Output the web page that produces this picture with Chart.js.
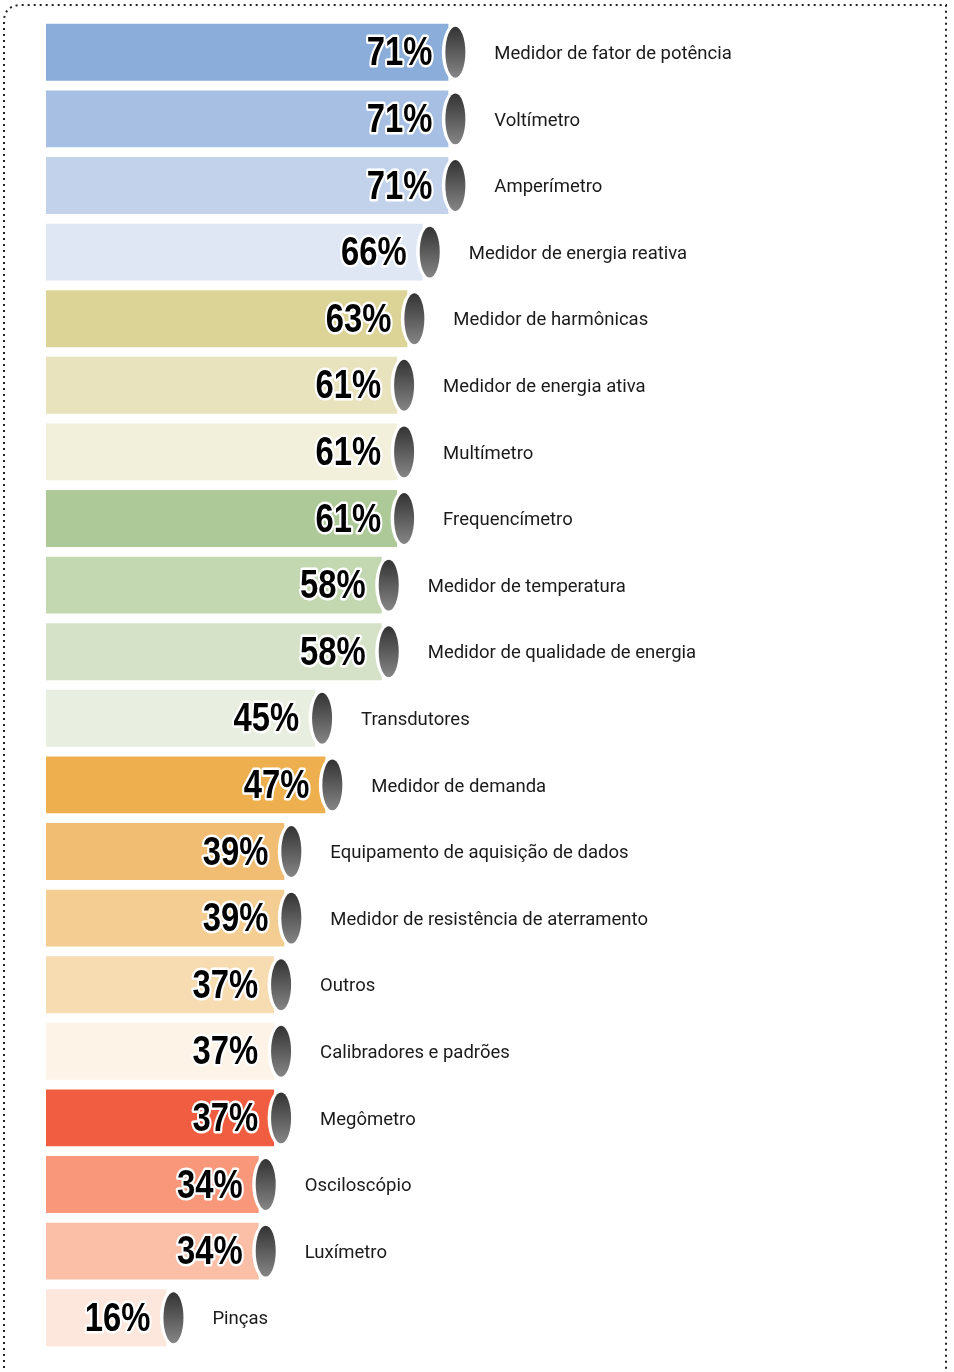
<!DOCTYPE html>
<html>
<head>
<meta charset="utf-8">
<script src="https://cdn.jsdelivr.net/npm/chart.js@4.4.0/dist/chart.umd.min.js"></script>
<style>
    html, body { margin: 0; padding: 0; background: #fff; }
    .chart-container { position: relative; width: 954px; height: 1372px; }
</style>
</head>
<body>
<div class="chart-container">
    <canvas id="bar-chart"></canvas>
</div>
<script>
const categories = [
    "Medidor de fator de potência",
    "Voltímetro",
    "Amperímetro",
    "Medidor de energia reativa",
    "Medidor de harmônicas",
    "Medidor de energia ativa",
    "Multímetro",
    "Frequencímetro",
    "Medidor de temperatura",
    "Medidor de qualidade de energia",
    "Transdutores",
    "Medidor de demanda",
    "Equipamento de aquisição de dados",
    "Medidor de resistência de aterramento",
    "Outros",
    "Calibradores e padrões",
    "Megômetro",
    "Osciloscópio",
    "Luxímetro",
    "Pinças",
];
const percentValues = [71, 71, 71, 66, 63, 61, 61, 61, 58, 58, 45, 47, 39, 39, 37, 37, 37, 34, 34, 16];
const barColors = [
    "#8aadd9", "#a6bfe3", "#c2d2eb", "#dfe6f4",
    "#dcd497", "#e8e2bd", "#f2efdb",
    "#aec998", "#c3d7b0", "#d6e2c8", "#e8eee0",
    "#eeb04e", "#f0bd73", "#f4cd93", "#f7dcb2", "#fdf3e7",
    "#f15d41", "#f8977a", "#fbbea7", "#fde6dc",
];

// the bars start a little left of zero in the original
const axisMin = -7.5;
const axisMax = 100;

// dotted frame round the whole picture
const framePlugin = {
    id: "frame",
    beforeDraw(chart) {
        const ctx = chart.ctx;
        ctx.save();
        ctx.strokeStyle = "#222";
        ctx.lineWidth = 2;
        ctx.setLineDash([2, 4]);
        ctx.beginPath();
        ctx.moveTo(4, 1380);
        ctx.lineTo(4, 20);
        ctx.quadraticCurveTo(5, 6, 20, 5);
        ctx.lineTo(946, 5);
        ctx.lineTo(946, 1380);
        ctx.stroke();
        ctx.restore();
    },
};

// cap at the end of each bar, the percent text and the category name
const barEndPlugin = {
    id: "barEnd",
    afterDatasetsDraw(chart) {
        const ctx = chart.ctx;
        const meta = chart.getDatasetMeta(0);
        meta.data.forEach((bar, i) => {
            const cx = bar.x + 7;
            const cy = bar.y;
            const h = bar.height;

            ctx.save();
            ctx.fillStyle = "#fff";
            ctx.beginPath();
            ctx.ellipse(cx, cy, 13.5, h / 2, 0, 0, Math.PI * 2);
            ctx.fill();

            const grad = ctx.createLinearGradient(0, cy - h / 2, 0, cy + h / 2);
            grad.addColorStop(0, "#2e2e2e");
            grad.addColorStop(1, "#8a8a8a");
            ctx.fillStyle = grad;
            ctx.beginPath();
            ctx.ellipse(cx, cy, 10, h / 2 - 3, 0, 0, Math.PI * 2);
            ctx.fill();
            ctx.restore();

            // percent, narrow bold face squeezed from Liberation Sans
            ctx.save();
            const tx = bar.x - 16;
            ctx.translate(tx, cy + 2);
            ctx.scale(0.82, 1);
            ctx.font = "bold 40px 'Liberation Sans', Arial, sans-serif";
            ctx.textAlign = "right";
            ctx.textBaseline = "middle";
            ctx.lineJoin = "round";
            ctx.lineWidth = 5;
            ctx.strokeStyle = "#fff";
            const txt = percentValues[i] + "%";
            ctx.strokeText(txt, 0, 0);
            ctx.fillStyle = "#000";
            ctx.fillText(txt, 0, 0);
            ctx.restore();

            // category name
            ctx.save();
            ctx.font = "18.5px Roboto, 'Noto Sans', sans-serif";
            ctx.textAlign = "left";
            ctx.textBaseline = "middle";
            ctx.fillStyle = "#1a1a1a";
            ctx.fillText(categories[i], cx + 39, cy + 2);
            ctx.restore();
        });
    },
};

const ctx = document.getElementById("bar-chart").getContext("2d");
new Chart(ctx, {
    type: "bar",
    data: {
        labels: categories,
        datasets: [{
            data: percentValues,
            base: axisMin,
            backgroundColor: barColors,
            borderWidth: 0,
            categoryPercentage: 1,
            barPercentage: 0.855,
        }],
    },
    options: {
        indexAxis: "y",
        animation: false,
        maintainAspectRatio: false,
        responsive: true,
        layout: { padding: { left: 46, right: 357, top: 19, bottom: 21 } },
        plugins: {
            legend: { display: false },
            tooltip: { enabled: false },
        },
        scales: {
            x: { display: false, min: axisMin, max: axisMax },
            y: { display: false },
        },
    },
    plugins: [framePlugin, barEndPlugin],
});
</script>
</body>
</html>
